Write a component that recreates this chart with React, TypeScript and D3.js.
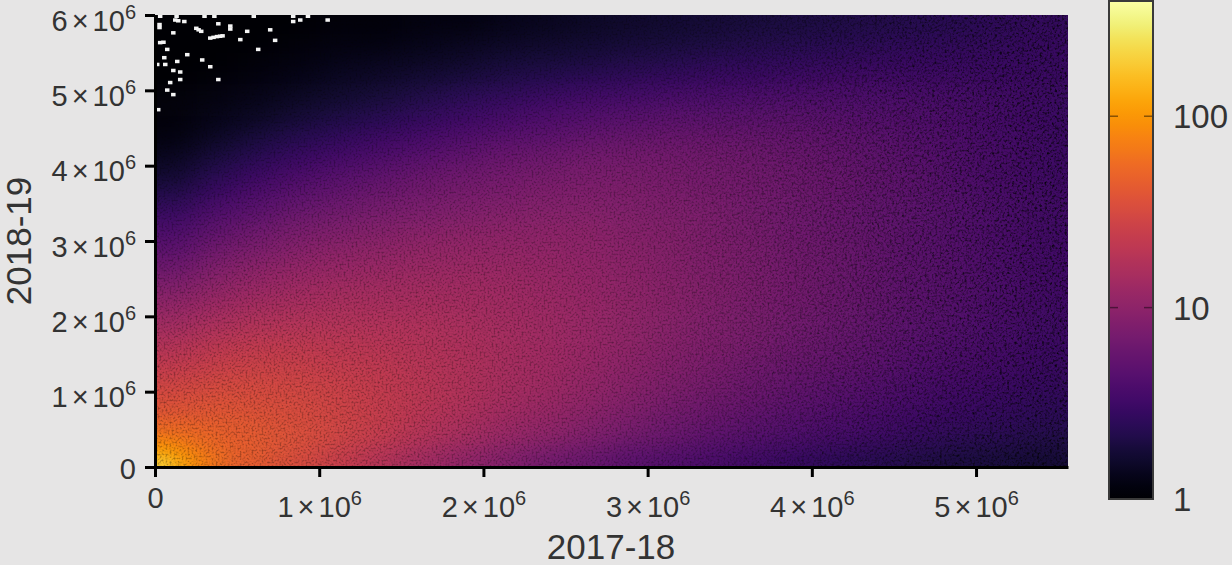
import React, { useEffect, useRef } from 'react';
import * as d3 from 'd3';

const width = 1232;
const height = 565;
const margin = { top: 15, right: 164, bottom: 98, left: 155 };
const xMax = 5.56e6;
const yMax = 6e6;

const xTicks = [0, 1e6, 2e6, 3e6, 4e6, 5e6];
const yTicks = [0, 1e6, 2e6, 3e6, 4e6, 5e6, 6e6];
const colorTicks = [1, 10, 100];

// counts per cell, read by eye. rows run top to bottom, each 0.25e6 tall, columns 0.25e6 wide
const cellStep = 0.25e6;
const countRows = [
  [1, 1, 1, 1, 1.1, 1.1, 1.2, 1.2, 1.3, 1.4, 1.5, 1.6, 1.7, 1.8, 1.9, 2, 2.1, 2.2, 2.3, 2.4, 2.6, 2.8, 2.8],
  [1, 1, 1, 1.1, 1.2, 1.2, 1.3, 1.4, 1.5, 1.6, 1.7, 1.8, 1.9, 2, 2.2, 2.3, 2.4, 2.5, 2.6, 2.7, 2.8, 2.9, 2.9],
  [1, 1, 1.1, 1.2, 1.3, 1.4, 1.5, 1.6, 1.8, 1.9, 2, 2.2, 2.3, 2.5, 2.6, 2.7, 2.8, 2.9, 3, 3, 3, 3, 3],
  [1, 1.1, 1.2, 1.3, 1.5, 1.6, 1.8, 2, 2.2, 2.4, 2.6, 2.8, 3, 3.1, 3.2, 3.3, 3.4, 3.4, 3.3, 3.3, 3.2, 3.1, 3],
  [1.1, 1.2, 1.3, 1.5, 1.7, 1.9, 2.2, 2.5, 2.8, 3.1, 3.4, 3.6, 3.8, 3.9, 4, 4, 4, 3.9, 3.8, 3.6, 3.4, 3.2, 3],
  [1.1, 1.3, 1.5, 1.8, 2.1, 2.4, 2.8, 3.2, 3.6, 4, 4.3, 4.6, 4.8, 4.9, 4.9, 4.8, 4.6, 4.4, 4.1, 3.8, 3.5, 3.2, 3],
  [1.2, 1.5, 1.9, 2.3, 2.7, 3.1, 3.6, 4.1, 4.6, 5, 5.4, 5.7, 5.8, 5.8, 5.7, 5.5, 5.2, 4.8, 4.4, 4, 3.6, 3.3, 3],
  [1.4, 1.9, 2.4, 3, 3.5, 4, 4.6, 5.2, 5.8, 6.3, 6.7, 6.9, 6.9, 6.7, 6.4, 6, 5.6, 5.1, 4.6, 4.1, 3.7, 3.3, 3],
  [1.7, 2.4, 3.1, 3.8, 4.5, 5.1, 5.8, 6.4, 6.9, 7.3, 7.5, 7.6, 7.4, 7.1, 6.7, 6.3, 5.8, 5.3, 4.8, 4.2, 3.7, 3.3, 3.1],
  [2.2, 3.1, 4, 4.9, 5.6, 6.3, 6.9, 7.4, 7.8, 8.1, 8.2, 8.1, 7.8, 7.4, 6.9, 6.4, 5.9, 5.3, 4.8, 4.3, 3.8, 3.4, 3.1],
  [2.9, 4, 5, 6, 6.8, 7.4, 8, 8.4, 8.7, 8.9, 8.9, 8.6, 8.2, 7.7, 7.1, 6.5, 5.9, 5.3, 4.8, 4.3, 3.8, 3.4, 3.2],
  [3.9, 5.3, 6.5, 7.5, 8.4, 9, 9.5, 9.8, 10, 10, 9.7, 9.2, 8.7, 8, 7.3, 6.6, 6, 5.4, 4.8, 4.3, 3.8, 3.4, 3.2],
  [5, 6.8, 8, 9.2, 10, 10.6, 11, 11.2, 11.1, 10.8, 10.2, 9.6, 9, 8.2, 7.5, 6.8, 6.1, 5.5, 4.9, 4.4, 3.9, 3.5, 3.2],
  [6.5, 8.6, 10, 11.2, 11.8, 12.2, 12.4, 12.4, 12.1, 11.6, 10.8, 10, 9.2, 8.4, 7.6, 6.9, 6.2, 5.5, 5, 4.4, 3.9, 3.5, 3.2],
  [8.5, 10.5, 12.2, 13.2, 13.8, 14, 14, 13.6, 13, 12.2, 11.2, 10.3, 9.4, 8.5, 7.7, 6.9, 6.2, 5.5, 4.9, 4.4, 3.9, 3.5, 3.2],
  [11, 13.2, 15, 15.8, 16, 15.8, 15.3, 14.6, 13.6, 12.6, 11.5, 10.5, 9.5, 8.5, 7.6, 6.9, 6.1, 5.5, 4.9, 4.3, 3.8, 3.4, 3.2],
  [14, 16.5, 18, 18.6, 18.2, 17.6, 16.6, 15.5, 14.2, 13, 11.7, 10.5, 9.4, 8.4, 7.5, 6.7, 6, 5.3, 4.7, 4.2, 3.7, 3.3, 3.1],
  [18, 20.5, 22, 21.5, 20.5, 19.5, 18, 16.4, 14.8, 13.2, 11.7, 10.4, 9.2, 8.2, 7.3, 6.4, 5.7, 5.1, 4.5, 4, 3.6, 3.2, 3],
  [22, 25, 26, 25, 23, 21, 19, 17, 15, 13.2, 11.5, 10.1, 8.8, 7.8, 6.8, 6, 5.4, 4.8, 4.2, 3.8, 3.4, 3.1, 2.9],
  [28, 31, 31, 28.5, 25.5, 22.5, 19.8, 17.2, 15, 12.9, 11.1, 9.5, 8.3, 7.2, 6.3, 5.6, 5, 4.4, 3.9, 3.5, 3.2, 2.9, 2.8],
  [35, 37, 35, 31.5, 27.5, 23.5, 20, 17, 14.5, 12.3, 10.4, 8.9, 7.6, 6.6, 5.8, 5.1, 4.5, 4, 3.6, 3.2, 3, 2.7, 2.6],
  [45, 43, 39, 34, 28.5, 24, 19.5, 16, 13.4, 11.2, 9.4, 8, 6.8, 5.9, 5.1, 4.5, 4, 3.6, 3.2, 2.9, 2.7, 2.5, 2.4],
  [60, 51, 43, 36, 29, 23, 18, 14.5, 11.6, 9.7, 8.1, 6.8, 5.8, 5, 4.4, 3.9, 3.4, 3.1, 2.8, 2.5, 2.4, 2.2, 2.1],
  [75, 57, 43, 33, 24.5, 18.5, 14, 10.8, 8.7, 7.1, 6, 5, 4.3, 3.8, 3.3, 2.9, 2.6, 2.4, 2.2, 2, 1.9, 1.8, 1.8],
];

// the hot corner near the origin, 0.1e6 cells
const cornerStep = 0.1e6;
const cornerRows = [
  [52, 50, 48, 46, 44, 42],
  [62, 58, 54, 50, 46, 43],
  [80, 70, 60, 53, 48, 44],
  [105, 85, 68, 57, 50, 45],
  [140, 105, 78, 62, 52, 45],
  [190, 125, 85, 65, 52, 44],
];

// empty cells in the sparse top left corner: [2017-18, 2018-19] in millions
const emptyCells = [
  [0.026, 5.87], [0.026, 5.83], [0.122, 5.93], [0.14, 5.92], [0.177, 5.91], [0.264, 5.8], [0.28, 5.78], [0.25, 5.82],
  [0.376, 5.71], [0.395, 5.715], [0.41, 5.72], [0.335, 5.69], [0.355, 5.7],
  [0.457, 5.85], [0.457, 5.81], [0.384, 5.88], [0.11, 5.76], [0.03, 5.63], [0.05, 5.635], [0.073, 5.54], [0.055, 5.43],
  [0.195, 5.47], [0.134, 5.38], [0.061, 5.34], [0.012, 5.34], [0.11, 5.26], [0.152, 5.24],
  [0.56, 5.78], [0.73, 5.66], [0.627, 5.54], [0.335, 5.31], [0.073, 5.0], [0.11, 4.94],
  [0.018, 4.74], [0.84, 5.91], [0.883, 5.93], [1.05, 5.93], [0.7, 5.8], [0.518, 5.67],
  [0.286, 5.4], [0.384, 5.14], [0.152, 5.14], [0.091, 5.1], [0.03, 5.98], [0.13, 5.98],
  [0.3, 5.98], [0.36, 5.98], [0.6, 5.98], [0.84, 5.98], [0.93, 5.98],
];

const x = d3.scaleLinear().domain([0, xMax]).range([margin.left, width - margin.right]);
const y = d3.scaleLinear().domain([0, yMax]).range([height - margin.bottom, margin.top]);
const barY = d3.scaleLog().domain([1, 400]).range([499, 1]);
const color = d3.scaleSequentialLog(d3.interpolateInferno).domain([1, 400]);

const font = '"Liberation Sans", Arial, sans-serif';
const inkColor = '#333';

// writes "3 × 10^6" into an axis label
function powerLabel(sel: any, v: number) {
  sel.text(null);
  if (v === 0) {
    sel.text('0');
    return;
  }
  sel.append('tspan').text(`${v / 1e6}`);
  sel.append('tspan').attr('dx', 4).text('×');
  sel.append('tspan').attr('dx', 4).text('10');
  sel.append('tspan').attr('dy', -12).attr('font-size', 20).text('6');
}

// edge cells on the left and bottom get pulled outwards so the blur doesn't fade at the border.
// padOuter does the same on the top and right, only wanted for the full grid
function cellRects(rows: number[][], step: number, top: number, pad: number, padOuter: number) {
  const out: React.ReactNode[] = [];
  rows.forEach((row, r) => {
    row.forEach((v, c) => {
      let x0 = x(c * step);
      const x1 = x((c + 1) * step) + (c === row.length - 1 ? padOuter : 0);
      let y0 = y(top - r * step);
      const y1 = y(top - (r + 1) * step) + (r === rows.length - 1 ? pad : 0);
      if (c === 0) x0 -= pad;
      if (r === 0) y0 -= padOuter;
      out.push(<rect key={`${r}-${c}`} x={x0} y={y0} width={x1 - x0 + 0.5} height={y1 - y0 + 0.5} fill={color(v)} />);
    });
  });
  return out;
}

export default function App() {
  const xAxisRef = useRef<SVGGElement>(null);
  const yAxisRef = useRef<SVGGElement>(null);

  useEffect(() => {
    const xg = d3.select(xAxisRef.current as SVGGElement);
    xg.call(d3.axisBottom(x).tickValues(xTicks).tickSize(10).tickSizeOuter(0));
    xg.select('.domain').attr('stroke', '#000').attr('stroke-width', 3);
    xg.selectAll('.tick line').attr('stroke', '#000').attr('stroke-width', 3);
    xg.selectAll('.tick text').each(function (d: any) {
      const t = d3.select(this as SVGTextElement);
      t.attr('y', d === 0 ? 41 : 50).attr('dy', null).attr('font-size', 29).attr('font-family', font).attr('fill', inkColor);
      powerLabel(t, d);
    });

    const yg = d3.select(yAxisRef.current as SVGGElement);
    yg.call(d3.axisLeft(y).tickValues(yTicks).tickSize(10).tickSizeOuter(0));
    yg.select('.domain').attr('stroke', '#000').attr('stroke-width', 3);
    yg.selectAll('.tick line').attr('stroke', '#000').attr('stroke-width', 3);
    yg.selectAll('.tick text').each(function (d: any) {
      const t = d3.select(this as SVGTextElement);
      t.attr('x', -19).attr('y', d === 0 ? 11 : 15).attr('dy', null).attr('font-size', 29).attr('font-family', font).attr('fill', inkColor);
      powerLabel(t, d);
    });
  }, []);

  const plotW = x(xMax) - x(0);
  const plotH = y(0) - y(yMax);

  const barStops = d3.range(0, 41).map(i => i / 40);

  return (
    <svg
      width={width}
      height={height}
      style={{ position: 'absolute', left: 0, top: 0, background: '#e6e5e5' }}
    >
      <defs>
        <clipPath id="plot">
          <rect x={x(0)} y={y(yMax)} width={plotW} height={plotH} />
        </clipPath>
        <filter id="soft" filterUnits="userSpaceOnUse" x={0} y={-100} width={width} height={height + 200} colorInterpolationFilters="sRGB">
          <feGaussianBlur stdDeviation="16 9" />
        </filter>
        <filter id="softCorner" filterUnits="userSpaceOnUse" x={0} y={300} width={500} height={300} colorInterpolationFilters="sRGB">
          <feGaussianBlur stdDeviation="8 4" />
        </filter>
        {/* grain is only texture, the counts come from the rows above */}
        <filter id="grain" filterUnits="userSpaceOnUse" x={x(0)} y={y(yMax)} width={plotW} height={plotH} colorInterpolationFilters="sRGB">
          <feTurbulence type="fractalNoise" baseFrequency="0.5" numOctaves={2} seed={4} />
          <feColorMatrix values="0.9 0 0 0 0.5  0.9 0 0 0 0.5  0.9 0 0 0 0.5  0 0 0 0 1" />
          <feGaussianBlur stdDeviation="0.5" />
        </filter>
        <filter id="grainDark" filterUnits="userSpaceOnUse" x={x(0)} y={y(yMax)} width={plotW} height={plotH} colorInterpolationFilters="sRGB">
          <feTurbulence type="fractalNoise" baseFrequency="0.4" numOctaves={2} seed={9} />
          <feColorMatrix values="2.4 0 0 0 -0.22  2.4 0 0 0 -0.22  2.4 0 0 0 -0.22  0 0 0 0 1" />
          <feGaussianBlur stdDeviation="0.6" />
        </filter>
        {/* stretched upwards: the counts fall off faster along y than along x */}
        <radialGradient
          id="sparse"
          gradientUnits="userSpaceOnUse"
          cx={x(0)}
          cy={y(0)}
          r={1000}
          gradientTransform={`translate(${x(0)},${y(0)}) scale(1,2.2) translate(${-x(0)},${-y(0)})`}
        >
          <stop offset={0.45} stopColor="#000" />
          <stop offset={0.9} stopColor="#fff" />
        </radialGradient>
        <mask id="sparseMask" maskUnits="userSpaceOnUse" x={0} y={0} width={width} height={height}>
          <rect x={0} y={0} width={width} height={height} fill="url(#sparse)" />
        </mask>
        <linearGradient id="barFill" x1="0" x2="0" y1="1" y2="0">
          {barStops.map(t => (
            <stop key={t} offset={t} stopColor={d3.interpolateInferno(t)} />
          ))}
        </linearGradient>
      </defs>

      <g clipPath="url(#plot)" style={{ isolation: 'isolate' }}>
        <g filter="url(#soft)">{cellRects(countRows, cellStep, 6e6, 60, 60)}</g>
        <g filter="url(#softCorner)">{cellRects(cornerRows, cornerStep, 0.6e6, 40, 0)}</g>
        <rect
          x={x(0)}
          y={y(yMax)}
          width={plotW}
          height={plotH}
          filter="url(#grain)"
          style={{ mixBlendMode: 'multiply' }}
        />
        <g mask="url(#sparseMask)" style={{ mixBlendMode: 'multiply' }}>
          <rect x={x(0)} y={y(yMax)} width={plotW} height={plotH} filter="url(#grainDark)" />
        </g>
        {emptyCells.map(([a, b], i) => (
          <rect key={i} x={x(a * 1e6) - 2} y={y(b * 1e6) - 2} width={4.5} height={3.5} fill="#f4f4f4" />
        ))}
      </g>

      <g ref={xAxisRef} transform={`translate(0,${y(0)})`} />
      <g ref={yAxisRef} transform={`translate(${x(0)},0)`} />

      <text x={611} y={559} textAnchor="middle" fontSize={35} fontFamily={font} fill={inkColor}>2017-18</text>
      <text
        transform={`translate(31,241) rotate(-90)`}
        textAnchor="middle"
        fontSize={35}
        fontFamily={font}
        fill={inkColor}
      >
        2018-19
      </text>

      <rect x={1109} y={barY(400)} width={44} height={barY(1) - barY(400)} fill="url(#barFill)" stroke="#3a3a3a" strokeWidth={2} />
      {colorTicks.map(t => (
        <g key={t} transform={`translate(0,${barY(t)})`}>
          {t > 1 && <line x1={1110} x2={1118} stroke="#000" strokeOpacity={0.45} strokeWidth={1.5} />}
          {t > 1 && <line x1={1144} x2={1152} stroke="#000" strokeOpacity={0.45} strokeWidth={1.5} />}
          <text x={1173} y={12} fontSize={33} fontFamily={font} fill={inkColor}>{t}</text>
        </g>
      ))}
    </svg>
  );
}
